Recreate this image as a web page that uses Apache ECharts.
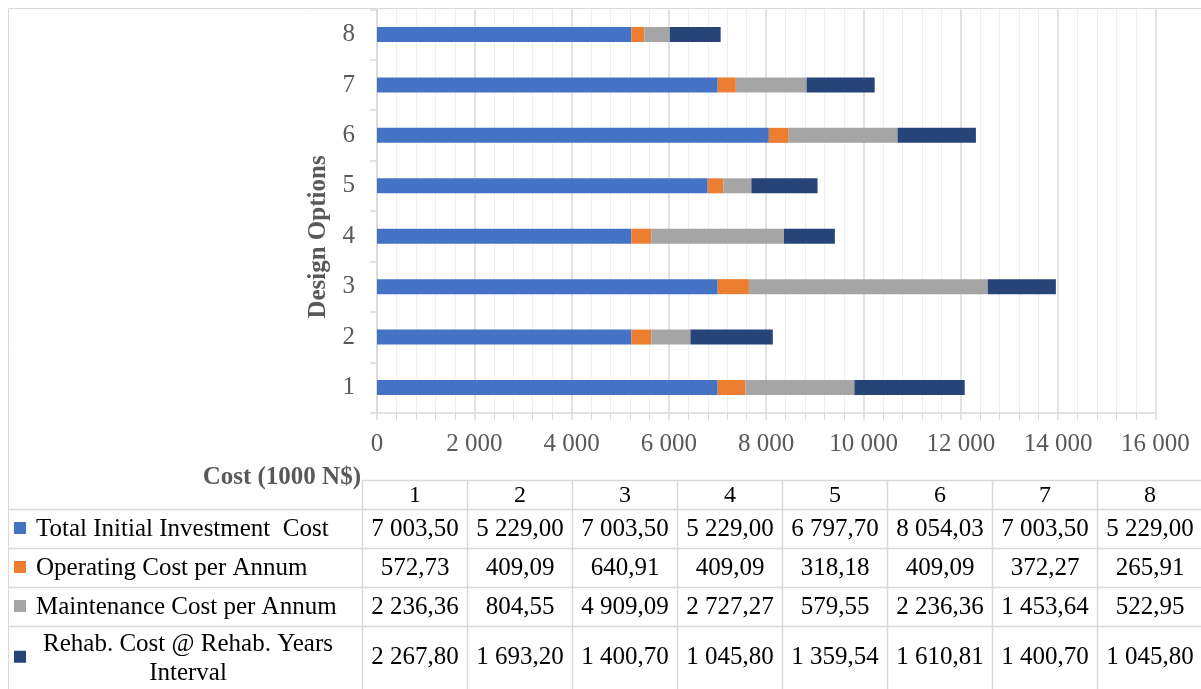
<!DOCTYPE html>
<html><head><meta charset="utf-8">
<script src="https://cdn.jsdelivr.net/npm/echarts@6/dist/echarts.min.js"></script>
<style>html,body{margin:0;padding:0;background:#fff}#c{width:1201px;height:689px}</style>
</head><body><div id="c"></div>
<script>
// ---- data ----
const categories = ['1','2','3','4','5','6','7','8'];
const seriesNames = ['Total Initial Investment  Cost','Operating Cost per Annum','Maintenance Cost per Annum','Rehab. Cost @ Rehab. Years\nInterval'];
const initialInvestment = [7003.50, 5229.00, 7003.50, 5229.00, 6797.70, 8054.03, 7003.50, 5229.00];
const operatingCost     = [572.73, 409.09, 640.91, 409.09, 318.18, 409.09, 372.27, 265.91];
const maintenanceCost   = [2236.36, 804.55, 4909.09, 2727.27, 579.55, 2236.36, 1453.64, 522.95];
const rehabCost         = [2267.80, 1693.20, 1400.70, 1045.80, 1359.54, 1610.81, 1400.70, 1045.80];
const xMin = 0, xMax = 16000, xInterval = 2000;
const yAxisTitle = 'Design Options';
const xAxisTitle = 'Cost (1000 N$)';

// ---- style ----
const colors = ['#4472C4', '#ED7D31', '#A5A5A5', '#264478'];
const FONT = '"Liberation Serif","Times New Roman",serif';
const lineGray = '#d9d9d9';

function fmt(v, dec) {
  const s = v.toFixed(dec);
  let parts = s.split('.');
  let i = parts[0].replace(/\B(?=(\d{3})+(?!\d))/g, ' ');
  return parts.length > 1 ? i + ',' + parts[1] : i;
}

const seriesData = [initialInvestment, operatingCost, maintenanceCost, rehabCost];

// ---- table layout ----
const colX0 = 362.5, colW = 105;
const rowLines = [509.5, 548.5, 587.5, 626.5, 700];
const headerTop = 480.5;
const graphics = [];
graphics.push({type:'rect', shape:{x:8.5, y:8.5, width:1200, height:700}, style:{fill:'none', stroke:lineGray, lineWidth:1}});
graphics.push({type:'line', shape:{x1:colX0, y1:headerTop, x2:1201, y2:headerTop}, style:{stroke:lineGray, lineWidth:1.5}});
for (let r = 0; r < 4; r++) {
  graphics.push({type:'line', shape:{x1:8, y1:rowLines[r], x2:1201, y2:rowLines[r]}, style:{stroke:lineGray, lineWidth:1.5}});
}
for (let c = 0; c < categories.length; c++) {
  const x = colX0 + c * colW;
  graphics.push({type:'line', shape:{x1:x, y1:headerTop, x2:x, y2:689}, style:{stroke:lineGray, lineWidth:1.5}});
  graphics.push({type:'text', x: x + colW/2, y: 496, style:{text: categories[c], align:'center', verticalAlign:'middle', font:'24px ' + FONT, fill:'#000'}});
}
const rowTops = [509.5, 548.5, 587.5, 626.5];
const rowBottoms = [548.5, 587.5, 626.5, 689];
for (let r = 0; r < 4; r++) {
  const cy = (rowTops[r] + rowBottoms[r]) / 2;
  graphics.push({type:'rect', shape:{x:14, y:cy - 7, width:12, height:12}, style:{fill:colors[r]}});
  const name = seriesNames[r];
  if (name.indexOf('\n') >= 0) {
    graphics.push({type:'text', x: 188, y: cy + 1, style:{text:name, align:'center', verticalAlign:'middle', font:'25px ' + FONT, fill:'#000', lineHeight:29}});
  } else {
    graphics.push({type:'text', x: 36, y: cy, style:{text:name, align:'left', verticalAlign:'middle', font:'25px ' + FONT, fill:'#000'}});
  }
  for (let c = 0; c < categories.length; c++) {
    graphics.push({type:'text', x: colX0 + c*colW + colW/2, y: cy, style:{text: fmt(seriesData[r][c], 2), align:'center', verticalAlign:'middle', font:'25px ' + FONT, fill:'#000'}});
  }
}
// axis titles
graphics.push({type:'text', x: 319, y: 237, rotation: Math.PI/2, style:{text:yAxisTitle, align:'center', verticalAlign:'middle', font:'bold 25px ' + FONT, fill:'#595959'}});
graphics.push({type:'text', x: 361, y: 478, style:{text:xAxisTitle, align:'right', verticalAlign:'middle', font:'bold 25px ' + FONT, fill:'#595959'}});

const chart = echarts.init(document.getElementById('c'), null, {renderer:'canvas'});
chart.setOption({
  animation: false,
  backgroundColor: '#fff',
  grid: {left: 377, right: 45.6, top: 9.3, height: 403.4},
  xAxis: {
    type: 'value', min: xMin, max: xMax, interval: xInterval,
    axisLine: {show: true, lineStyle: {color: lineGray, width: 1.5}},
    axisTick: {show: true, length: 7, lineStyle: {color: lineGray, width: 1.5}},
    minorTick: {show: true, splitNumber: 5, length: 7, lineStyle: {color: lineGray, width: 1}},
    splitLine: {show: true, lineStyle: {color: lineGray, width: 1.5}},
    minorSplitLine: {show: true, lineStyle: {color: '#efefef', width: 1}},
    axisLabel: {margin: 19, color: '#595959', fontFamily: 'Liberation Serif', fontSize: 25, formatter: v => fmt(v, 0)}
  },
  yAxis: {
    type: 'category', data: categories,
    axisLine: {show: true, lineStyle: {color: lineGray, width: 1.5}},
    axisTick: {show: true, length: 7, alignWithLabel: false, lineStyle: {color: lineGray, width: 1.5}},
    splitLine: {show: false},
    axisLabel: {margin: 22, color: '#595959', fontFamily: 'Liberation Serif', fontSize: 25}
  },
  series: seriesData.map((d, i) => ({
    type: 'bar', name: seriesNames[i], stack: 'total', data: d, barWidth: 15,
    itemStyle: {color: colors[i]}, emphasis: {disabled: true}
  })),
  graphic: graphics
});
</script></body></html>
